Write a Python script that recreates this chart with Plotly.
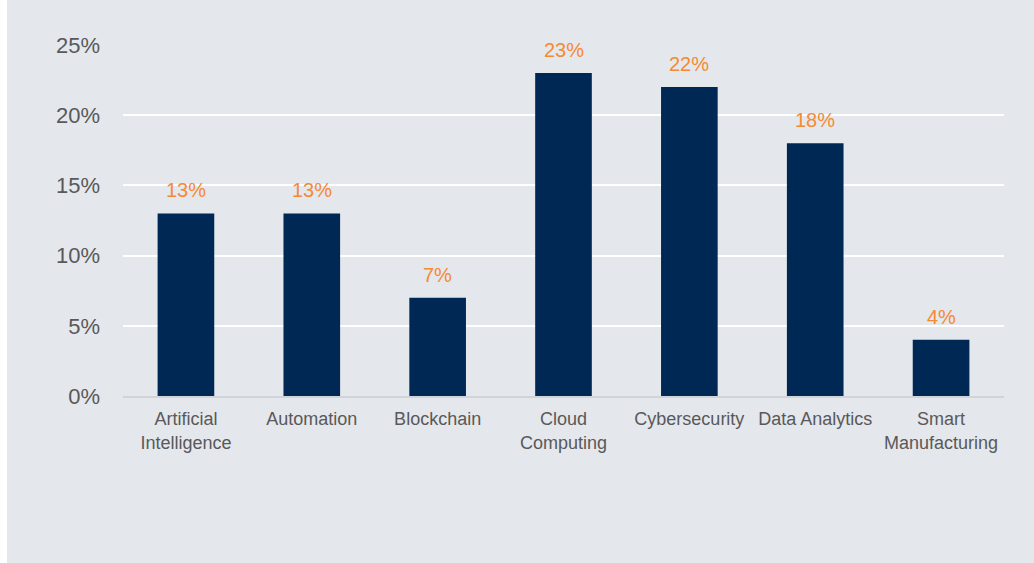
import plotly.graph_objects as go

categories = ["Artificial<br>Intelligence", "Automation", "Blockchain", "Cloud<br>Computing",
              "Cybersecurity", "Data Analytics", "Smart<br>Manufacturing"]
shares = [13, 13, 7, 23, 22, 18, 4]
tick_values = [0, 5, 10, 15, 20, 25]
tick_labels = ["0%", "5%", "10%", "15%", "20%", "25%"]

W, H = 1034, 563
ML, MR, MT, MB = 123, 30, 45, 167
BG = "#e4e7ec"
BAR = "#002855"
ORANGE = "#f58a33"
FONT = "Liberation Sans, Arial, sans-serif"

fig = go.Figure(go.Bar(
    x=categories, y=shares, marker=dict(color=BAR, line=dict(width=0)),
    hoverinfo="skip",
))

# value labels above each bar
for c, v in zip(categories, shares):
    fig.add_annotation(x=c, y=v, text=f"{v}%", showarrow=False, yanchor="bottom",
                       yshift=10, font=dict(family=FONT, size=20, color=ORANGE))

# grey panel with a thin white frame on the top and left
pw = W - ML - MR
ph = H - MT - MB
fig.add_shape(type="rect", xref="paper", yref="paper", layer="below", line=dict(width=0),
              fillcolor=BG,
              x0=(7 - ML) / pw, x1=(W + 5 - ML) / pw,
              y0=-(MB + 5) / ph, y1=(H - 5 - MT) / ph)

fig.update_layout(
    width=W, height=H,
    margin=dict(l=ML, r=MR, t=MT, b=MB, pad=0),
    paper_bgcolor="white", plot_bgcolor=BG,
    bargap=0.55, showlegend=False,
    font=dict(family=FONT, color="#595959"),
    xaxis=dict(showgrid=False, showline=True, linecolor="#d0d3d8", linewidth=1.5,
               ticks="", tickfont=dict(size=18, color="#595959"),
               ticklabelstandoff=6, fixedrange=True),
    yaxis=dict(range=[0, 25], tickvals=tick_values, ticktext=tick_labels,
               showgrid=True, gridcolor="white", gridwidth=2, zeroline=False,
               showline=False, ticks="", tickfont=dict(size=22, color="#595959"),
               ticklabelstandoff=22, fixedrange=True),
)
fig.update_traces(cliponaxis=False)

fig.write_html("out.html")
